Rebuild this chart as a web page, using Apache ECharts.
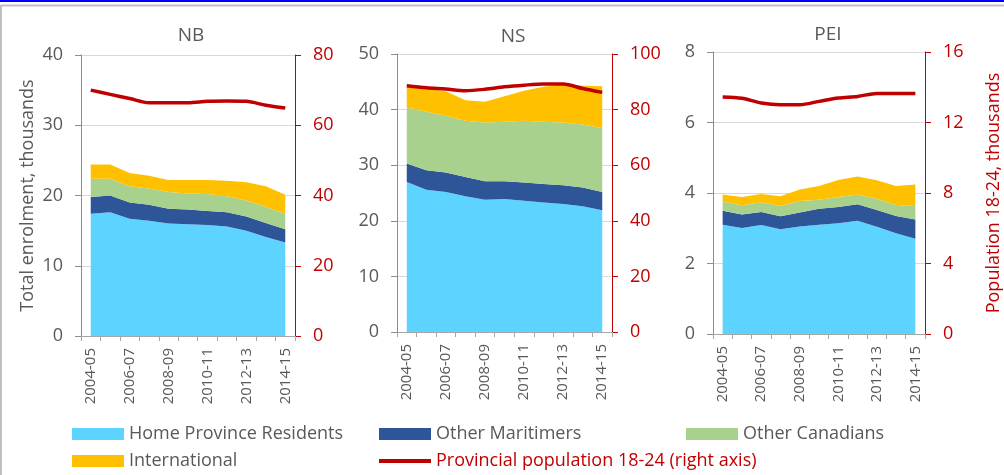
<!DOCTYPE html>
<html>
<head>
<meta charset="utf-8">
<script src="https://cdn.jsdelivr.net/npm/echarts@6/dist/echarts.min.js"></script>
<style>
  html, body { margin: 0; padding: 0; background: #fff; }
  #chart { width: 1004px; height: 475px; }
</style>
</head>
<body>
<div id="chart"></div>
<script>
// years on the x axis
const years = ['2004-05', '2005-06', '2006-07', '2007-08', '2008-09', '2009-10',
  '2010-11', '2011-12', '2012-13', '2013-14', '2014-15'];

// New Brunswick, thousands
const nbHome = [17.4, 17.6, 16.7, 16.4, 16.0, 15.9, 15.8, 15.6, 15.0, 14.1, 13.3];
const nbMar = [2.4, 2.4, 2.3, 2.3, 2.1, 2.1, 2.0, 2.0, 2.0, 2.0, 1.9];
const nbCan = [2.6, 2.4, 2.3, 2.3, 2.4, 2.3, 2.4, 2.3, 2.3, 2.3, 2.2];
const nbIntl = [2.0, 2.0, 1.9, 1.8, 1.7, 1.9, 2.0, 2.2, 2.6, 2.9, 2.7];
const nbPop = [70.0, 68.8, 67.6, 66.4, 66.4, 66.4, 66.8, 66.9, 66.8, 65.7, 64.9];

// Nova Scotia
const nsHome = [27.0, 25.6, 25.2, 24.4, 23.8, 23.9, 23.6, 23.3, 23.0, 22.6, 21.9];
const nsMar = [3.3, 3.5, 3.5, 3.5, 3.3, 3.2, 3.3, 3.3, 3.4, 3.4, 3.3];
const nsCan = [10.1, 10.5, 10.2, 10.1, 10.6, 10.7, 11.1, 11.2, 11.3, 11.3, 11.5];
const nsIntl = [3.7, 4.2, 4.4, 3.7, 3.7, 4.6, 5.4, 6.3, 6.8, 7.0, 7.5];
const nsPop = [88.6, 87.9, 87.4, 86.8, 87.3, 88.2, 88.8, 89.2, 89.2, 87.6, 86.2];

// Prince Edward Island
const peiHome = [3.10, 3.01, 3.09, 2.97, 3.05, 3.10, 3.14, 3.21, 3.04, 2.86, 2.70];
const peiMar = [0.40, 0.38, 0.37, 0.37, 0.40, 0.45, 0.46, 0.47, 0.48, 0.49, 0.55];
const peiCan = [0.26, 0.26, 0.28, 0.29, 0.32, 0.26, 0.29, 0.28, 0.32, 0.31, 0.38];
const peiIntl = [0.20, 0.24, 0.23, 0.28, 0.33, 0.39, 0.48, 0.51, 0.52, 0.54, 0.61];
const peiPop = [13.45, 13.37, 13.11, 13.01, 13.01, 13.20, 13.39, 13.48, 13.65, 13.65, 13.65];

const panelNames = ['NB', 'NS', 'PEI'];
const leftMax = [40, 50, 8];
const leftStep = [10, 10, 2];
const rightMax = [80, 100, 16];
const rightStep = [20, 20, 4];

const seriesNames = ['Home Province Residents', 'Other Maritimers', 'Other Canadians', 'International'];
const popName = 'Provincial population 18-24 (right axis)';
const colors = ['#5CD4FF', '#2E5597', '#A9D18E', '#FFC000'];
const red = '#C00000';
const grey = '#595959';
const font = "'Open Sans', sans-serif";

const panelData = [
  [nbHome, nbMar, nbCan, nbIntl, nbPop],
  [nsHome, nsMar, nsCan, nsIntl, nsPop],
  [peiHome, peiMar, peiCan, peiIntl, peiPop]
];

const grids = [
  { left: 81, top: 55, width: 214, height: 281, titleX: 191, titleY: 36 },
  { left: 397, top: 54, width: 215, height: 278, titleX: 513, titleY: 37 },
  { left: 713, top: 52, width: 219, height: 282, titleX: 828, titleY: 35 }
];

const chart = echarts.init(document.getElementById('chart'));

let xAxes = [], yAxes = [], series = [], graphics = [];
grids.forEach(function(g, p) {
  xAxes.push({
    type: 'category', gridIndex: p, data: years, boundaryGap: true,
    axisLine: { lineStyle: { color: '#A6A6A6' } },
    axisTick: { show: true, interval: 0, length: 5, lineStyle: { color: '#A6A6A6' } },
    axisLabel: { interval: 1, rotate: 90, margin: 12, color: grey, fontSize: 15, fontFamily: font }
  });
  yAxes.push({
    type: 'value', gridIndex: p, position: 'left', min: 0, max: leftMax[p], interval: leftStep[p],
    name: p === 0 ? 'Total enrolment, thousands' : '',
    nameLocation: 'middle', nameRotate: 90, nameGap: 44,
    nameTextStyle: { color: grey, fontSize: 18, fontFamily: font },
    axisLine: { show: true, lineStyle: { color: '#8C8C8C' } },
    axisTick: { show: true, length: 6, lineStyle: { color: '#8C8C8C' } },
    axisLabel: { color: grey, fontSize: 18, margin: 18, fontFamily: font },
    splitLine: { show: true, lineStyle: { color: '#D9D9D9' } }
  });
  yAxes.push({
    type: 'value', gridIndex: p, position: 'right', min: 0, max: rightMax[p], interval: rightStep[p],
    name: p === 2 ? 'Population 18-24, thousands' : '',
    nameLocation: 'middle', nameRotate: 90, nameGap: 60,
    nameTextStyle: { color: red, fontSize: 18, fontFamily: font },
    axisLine: { show: true, lineStyle: { color: red } },
    axisTick: { show: true, length: 6, lineStyle: { color: red } },
    axisLabel: { color: red, fontSize: 18, margin: 18, fontFamily: font },
    splitLine: { show: false }
  });
  const d = panelData[p];
  for (let i = 0; i < 4; i++) {
    series.push({
      name: seriesNames[i], type: 'line', stack: 'total' + p,
      xAxisIndex: p, yAxisIndex: 2 * p, data: d[i],
      symbol: 'none', color: colors[i],
      lineStyle: { width: 0 }, areaStyle: { color: colors[i], opacity: 1 },
      silent: true, z: 2
    });
  }
  series.push({
    name: popName, type: 'line', xAxisIndex: p, yAxisIndex: 2 * p + 1, data: d[4],
    symbol: 'none', smooth: 0.3, color: red,
    lineStyle: { width: 3.5, color: red }, silent: true, z: 5
  });
  graphics.push({
    type: 'text', x: g.titleX, y: g.titleY,
    style: { text: panelNames[p], fill: grey, font: '19px ' + font, align: 'center', verticalAlign: 'middle' }
  });
});

// frame lines around the figure
graphics.push({ type: 'rect', shape: { x: 0, y: 0, width: 1004, height: 2 }, style: { fill: '#0000FF' } });
graphics.push({ type: 'line', shape: { x1: 1, y1: 5.5, x2: 1004, y2: 5.5 }, style: { stroke: '#BFBFBF', lineWidth: 2 } });
graphics.push({ type: 'line', shape: { x1: 1, y1: 5, x2: 1, y2: 475 }, style: { stroke: '#BFBFBF', lineWidth: 2 } });

function legendItem(name, left, top, color, h) {
  return {
    data: [name], left: left, top: top, padding: 0, orient: 'horizontal',
    icon: 'rect', itemWidth: 52, itemHeight: h, selectedMode: false,
    textStyle: { color: color, fontSize: 18, fontFamily: font }
  };
}

chart.setOption({
  animation: false,
  grid: grids.map(function(g) { return { left: g.left, top: g.top, width: g.width, height: g.height }; }),
  xAxis: xAxes,
  yAxis: yAxes,
  series: series,
  graphic: graphics,
  legend: [
    legendItem(seriesNames[0], 72, 425, grey, 12),
    legendItem(seriesNames[1], 379, 425, grey, 12),
    legendItem(seriesNames[2], 686, 425, grey, 12),
    legendItem(seriesNames[3], 72, 452, grey, 12),
    legendItem(popName, 379, 452, red, 4)
  ]
});
</script>
</body>
</html>
